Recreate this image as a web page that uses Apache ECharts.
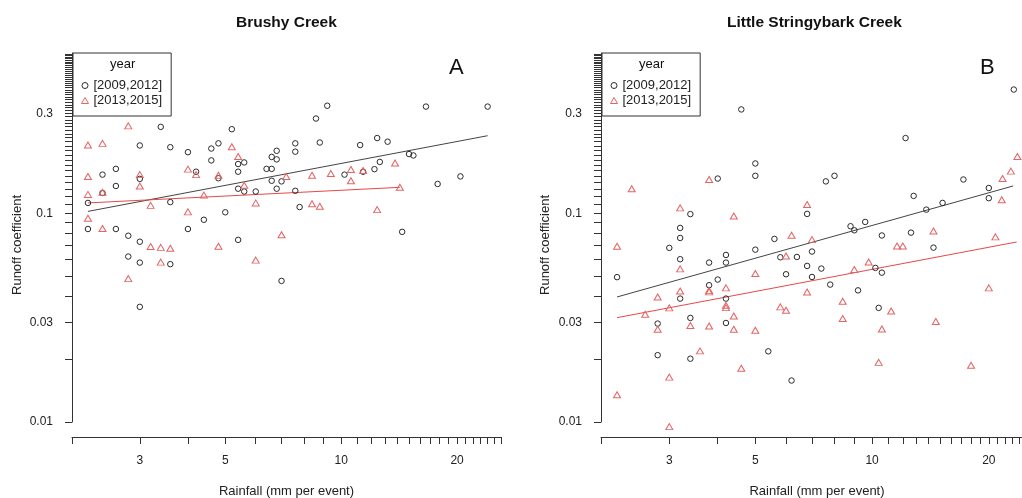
<!DOCTYPE html>
<html>
<head>
<meta charset="utf-8">
<script src="https://cdn.jsdelivr.net/npm/echarts@6/dist/echarts.min.js"></script>
<style>
  html, body { margin: 0; padding: 0; background: #fff; }
  #chart { width: 1022px; height: 498px; }
</style>
</head>
<body>
<div id="chart"></div>
<script>
  // tick positions and labels
  var xTicks = [2, 3, 4, 5, 6, 7, 8, 9, 10, 11, 12, 13, 14, 15, 16, 17, 18, 19, 20, 21, 22, 23, 24, 25, 26];
  var xLabels = [3, 5, 10, 20];
  var yLabels = [0.01, 0.03, 0.1, 0.3];
  var yTicks = [];
  for (var i = 1; i <= 58; i++) yTicks.push(i / 100);

  var seriesNames = ['[2009,2012]', '[2013,2015]'];

  // Brushy Creek, 2009-2012
  var brushyOld = [
    [2.2, 0.112], [2.2, 0.084], [2.4, 0.153], [2.4, 0.125], [2.6, 0.163], [2.6, 0.135], [2.6, 0.084],
    [2.8, 0.078], [2.8, 0.062], [3.0, 0.211], [3.0, 0.146], [3.0, 0.073], [3.0, 0.058], [3.0, 0.0356],
    [3.4, 0.259], [3.6, 0.207], [3.6, 0.113], [3.6, 0.057], [4.0, 0.196], [4.0, 0.084], [4.2, 0.158],
    [4.4, 0.093], [4.6, 0.204], [4.6, 0.179], [4.8, 0.216], [4.8, 0.147], [5.0, 0.101], [5.2, 0.2525],
    [5.4, 0.172], [5.4, 0.158], [5.4, 0.131], [5.4, 0.0745], [5.6, 0.175], [5.6, 0.127], [6.0, 0.127],
    [6.4, 0.163], [6.6, 0.186], [6.6, 0.163], [6.6, 0.143], [6.8, 0.199], [6.8, 0.181], [6.8, 0.131],
    [7.0, 0.142], [7.0, 0.0474], [7.6, 0.216], [7.6, 0.197], [7.6, 0.128], [7.8, 0.107], [8.6, 0.284],
    [8.8, 0.218], [9.2, 0.327], [10.2, 0.153], [11.2, 0.212], [11.4, 0.158], [12.2, 0.1625], [12.4, 0.229],
    [12.6, 0.176], [13.2, 0.220], [14.4, 0.0814], [15.0, 0.192], [15.4, 0.189], [16.6, 0.324],
    [17.8, 0.138], [20.4, 0.150], [24.0, 0.324]
  ];
  // Brushy Creek, 2013-2015
  var brushyNew = [
    [2.2, 0.212], [2.2, 0.150], [2.2, 0.123], [2.2, 0.0945], [2.4, 0.216], [2.4, 0.126], [2.4, 0.0844],
    [2.8, 0.262], [2.8, 0.0486], [3.0, 0.153], [3.0, 0.135], [3.2, 0.109], [3.2, 0.0693], [3.4, 0.0686],
    [3.4, 0.0583], [3.6, 0.0679], [4.0, 0.1625], [4.0, 0.1015], [4.2, 0.153], [4.4, 0.122], [4.8, 0.152],
    [4.8, 0.0695], [5.2, 0.208], [5.4, 0.187], [5.6, 0.136], [6.0, 0.112], [6.0, 0.0596], [7.0, 0.0789],
    [7.2, 0.150], [8.4, 0.152], [8.4, 0.111], [8.8, 0.108], [9.4, 0.155], [10.6, 0.162], [10.6, 0.143],
    [11.4, 0.160], [12.4, 0.104], [13.8, 0.174], [14.2, 0.133]
  ];
  var brushyOldFit = [[2.2, 0.102], [24.0, 0.235]];
  var brushyNewFit = [[2.2, 0.112], [14.2, 0.133]];

  // Little Stringybark Creek, 2009-2012
  var stringyOld = [
    [2.2, 0.0494], [2.8, 0.0296], [2.8, 0.0209], [3.0, 0.0682], [3.2, 0.085], [3.2, 0.0761], [3.2, 0.0602],
    [3.2, 0.039], [3.4, 0.099], [3.4, 0.0315], [3.4, 0.0201], [3.8, 0.058], [3.8, 0.0452], [4.0, 0.1465],
    [4.0, 0.0481], [4.2, 0.0631], [4.2, 0.058], [4.2, 0.039], [4.2, 0.0298], [4.6, 0.314], [5.0, 0.173],
    [5.0, 0.151], [5.0, 0.0669], [5.4, 0.0218], [5.6, 0.0753], [5.8, 0.0615], [6.0, 0.051], [6.2, 0.0158],
    [6.4, 0.0617], [6.8, 0.0992], [6.8, 0.0559], [7.0, 0.0655], [7.0, 0.0495], [7.4, 0.0543], [7.6, 0.142],
    [7.8, 0.0455], [8.0, 0.151], [8.8, 0.0866], [9.0, 0.0828], [9.2, 0.0427], [9.6, 0.0908], [10.2, 0.0547],
    [10.4, 0.0352], [10.6, 0.0782], [10.6, 0.0519], [12.2, 0.229], [12.6, 0.0807], [12.8, 0.121],
    [13.8, 0.104], [14.4, 0.0684], [15.2, 0.112], [17.2, 0.145], [20.0, 0.132], [20.0, 0.118], [23.2, 0.391]
  ];
  // Little Stringybark Creek, 2013-2015
  var stringyNew = [
    [2.2, 0.0694], [2.2, 0.0135], [2.4, 0.131], [2.6, 0.0328], [2.8, 0.0397], [2.8, 0.0278], [3.0, 0.0352],
    [3.0, 0.0164], [3.0, 0.0095], [3.2, 0.106], [3.2, 0.0541], [3.2, 0.0424], [3.4, 0.029], [3.6, 0.0219],
    [3.8, 0.145], [3.8, 0.0427], [3.8, 0.042], [3.8, 0.0288], [4.2, 0.0439], [4.2, 0.0362], [4.2, 0.0353],
    [4.4, 0.097], [4.4, 0.0322], [4.4, 0.0278], [4.6, 0.0181], [5.0, 0.0514], [5.0, 0.0275], [5.8, 0.0356],
    [6.0, 0.0624], [6.0, 0.0343], [6.2, 0.0784], [6.8, 0.110], [6.8, 0.0419], [7.0, 0.0747], [8.4, 0.0379],
    [8.4, 0.0313], [9.0, 0.0537], [9.8, 0.0584], [10.4, 0.0193], [10.6, 0.0279], [11.2, 0.034],
    [11.6, 0.0697], [12.0, 0.0697], [14.4, 0.0822], [14.6, 0.0303], [18.0, 0.0187], [20.0, 0.0439],
    [20.8, 0.077], [21.6, 0.116], [21.7, 0.1465], [22.8, 0.159], [23.7, 0.187]
  ];
  var stringyOldFit = [[2.2, 0.0397], [23.1, 0.135]];
  var stringyNewFit = [[2.2, 0.0316], [23.6, 0.0728]];

  var FONT = '"Liberation Sans", Arial, sans-serif';
  var INK = '#222';
  var RED = '#e46464';

  var chart = echarts.init(document.getElementById('chart'));

  function fmt(v) { return String(Number(Number(v).toPrecision(3))); }

  function xAxisFor(idx) {
    return {
      type: 'log', gridIndex: idx, min: 2, max: 26, offset: 15,
      name: 'Rainfall (mm per event)', nameLocation: 'middle', nameGap: 48,
      nameTextStyle: { fontFamily: FONT, fontSize: 13, color: INK },
      axisLine: { lineStyle: { color: '#333', width: 1 } },
      axisTick: { customValues: xTicks, length: 7, inside: false, lineStyle: { color: '#333' } },
      axisLabel: { customValues: xLabels, margin: 18, fontFamily: FONT, fontSize: 12, color: INK, formatter: fmt },
      splitLine: { show: false }, minorTick: { show: false }
    };
  }
  function yAxisFor(idx) {
    return {
      type: 'log', gridIndex: idx, min: 0.01, max: 0.585,
      axisLine: { show: true, lineStyle: { color: '#333', width: 1 } },
      axisTick: { show: true, customValues: yTicks, length: 7, lineStyle: { color: '#333' } },
      axisLabel: { customValues: yLabels, margin: 19, fontFamily: FONT, fontSize: 12, color: INK, formatter: fmt },
      splitLine: { show: false }, minorTick: { show: false }
    };
  }
  function pts(name, idx, data, isOld) {
    return {
      name: name, type: 'scatter', xAxisIndex: idx, yAxisIndex: idx, data: data, clip: false,
      symbol: isOld ? 'circle' : 'triangle', symbolSize: isOld ? 5.5 : [7, 6],
      itemStyle: { color: 'rgba(0,0,0,0)', borderColor: isOld ? '#2b2b2b' : RED, borderWidth: 1, opacity: 1 },
      emphasis: { disabled: true }, z: 3
    };
  }
  function fit(idx, data, color) {
    return {
      type: 'line', xAxisIndex: idx, yAxisIndex: idx, data: data, showSymbol: false, symbol: 'none',
      lineStyle: { color: color, width: 1 }, silent: true, z: 2
    };
  }
  function legendFor(left) {
    return {
      left: left, top: 53, orient: 'vertical', selectedMode: false,
      data: [
        { name: seriesNames[0], icon: 'circle', itemStyle: { color: 'rgba(0,0,0,0)', borderColor: '#2b2b2b', borderWidth: 1 } },
        { name: seriesNames[1], icon: 'triangle', itemStyle: { color: 'rgba(0,0,0,0)', borderColor: RED, borderWidth: 1 } }
      ],
      itemWidth: 7, itemHeight: 6, itemGap: 2, padding: [26, 9, 9, 8],
      borderColor: '#333', borderWidth: 1,
      itemStyle: { borderWidth: 1 },
      textStyle: { fontFamily: FONT, fontSize: 13, color: INK, lineHeight: 13 }
    };
  }
  function textTitle(text, left, top, size, bold) {
    return {
      text: text, left: left, top: top, padding: 0,
      textStyle: { fontFamily: FONT, fontSize: size, fontWeight: bold ? 'bold' : 'normal', color: '#111' }
    };
  }

  chart.setOption({
    animation: false,
    backgroundColor: '#fff',
    title: [
      textTitle('Brushy Creek', 236, 15, 15.5, true),
      textTitle('Little Stringybark Creek', 727, 15, 15.5, true),
      textTitle('year', 110, 58, 13, false),
      textTitle('year', 639, 58, 13, false),
      textTitle('A', 449, 57, 22, false),
      textTitle('B', 980, 57, 22, false)
    ],
    legend: [legendFor(73), legendFor(602)],
    grid: [
      { left: 72, top: 53, width: 429, height: 369, outerBoundsMode: 'none', containLabel: false },
      { left: 601, top: 53, width: 432, height: 369, outerBoundsMode: 'none', containLabel: false }
    ],
    xAxis: [xAxisFor(0), xAxisFor(1)],
    yAxis: [yAxisFor(0), yAxisFor(1)],
    graphic: [
      { type: 'text', x: 17, y: 245, rotation: Math.PI / 2,
        style: { text: 'Runoff coefficient', font: '13px ' + FONT, fill: INK, textAlign: 'center', textVerticalAlign: 'middle' } },
      { type: 'text', x: 545, y: 245, rotation: Math.PI / 2,
        style: { text: 'Runoff coefficient', font: '13px ' + FONT, fill: INK, textAlign: 'center', textVerticalAlign: 'middle' } }
    ],
    series: [
      pts(seriesNames[0], 0, brushyOld, true),
      pts(seriesNames[1], 0, brushyNew, false),
      fit(0, brushyOldFit, '#444'),
      fit(0, brushyNewFit, '#e84848'),
      pts(seriesNames[0], 1, stringyOld, true),
      pts(seriesNames[1], 1, stringyNew, false),
      fit(1, stringyOldFit, '#444'),
      fit(1, stringyNewFit, '#e84848')
    ]
  });
</script>
</body>
</html>
